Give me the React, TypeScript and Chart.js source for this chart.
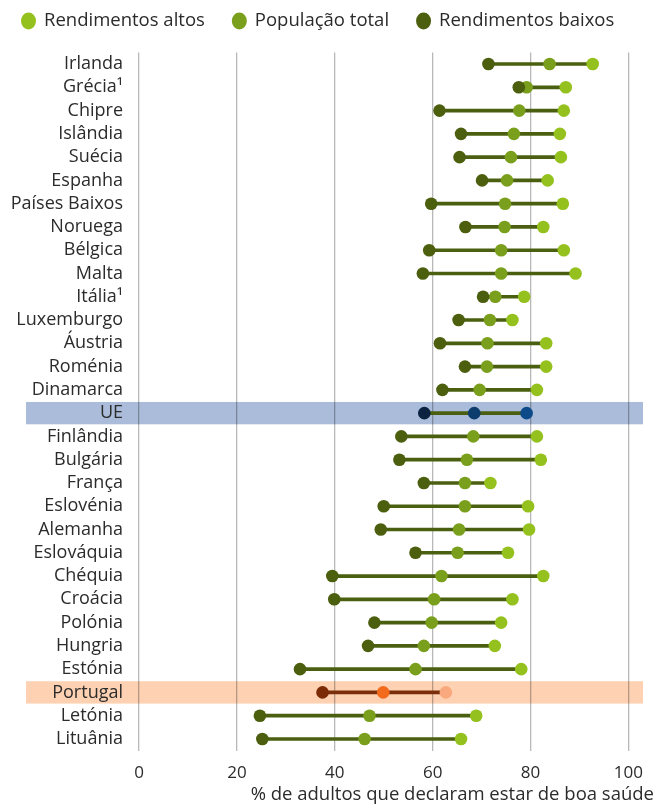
import React, { useEffect, useRef } from "react";
import { Chart, registerables } from "chart.js";

Chart.register(...registerables);

const countries = [
  "Irlanda", "Grécia¹", "Chipre", "Islândia", "Suécia", "Espanha", "Países Baixos", "Noruega",
  "Bélgica", "Malta", "Itália¹", "Luxemburgo", "Áustria", "Roménia", "Dinamarca", "UE",
  "Finlândia", "Bulgária", "França", "Eslovénia", "Alemanha", "Eslováquia", "Chéquia", "Croácia",
  "Polónia", "Hungria", "Estónia", "Portugal", "Letónia", "Lituânia",
];

const lowIncome = [
  71.4, 77.6, 61.4, 65.8, 65.5, 70.1, 59.7, 66.7,
  59.3, 58.0, 70.3, 65.3, 61.5, 66.6, 62.0, 58.3,
  53.6, 53.2, 58.2, 50.0, 49.4, 56.5, 39.5, 39.9,
  48.1, 46.8, 32.9, 37.5, 24.7, 25.2,
];

const totalPop = [
  83.9, 79.2, 77.7, 76.6, 76.0, 75.2, 74.8, 74.7,
  74.0, 74.0, 72.8, 71.7, 71.2, 71.1, 69.6, 68.5,
  68.3, 67.0, 66.6, 66.6, 65.4, 65.1, 61.8, 60.3,
  59.8, 58.2, 56.5, 49.9, 47.1, 46.1,
];

const highIncome = [
  92.7, 87.2, 86.8, 86.0, 86.2, 83.5, 86.6, 82.6,
  86.8, 89.2, 78.7, 76.3, 83.2, 83.2, 81.3, 79.2,
  81.3, 82.1, 71.8, 79.5, 79.7, 75.4, 82.6, 76.3,
  74.0, 72.7, 78.1, 62.7, 68.9, 65.8,
];

const xTicks = [0, 20, 40, 60, 80, 100];

const seriesNames = ["Rendimentos altos", "População total", "Rendimentos baixos"];
const axisTitle = "% de adultos que declaram estar de boa saúde";

const FONT = "'Open Sans', 'DejaVu Sans', sans-serif";

const GREEN = { low: "#4b5f0f", total: "#7a9f1d", high: "#95c11f", line: "#4b5f10" };
const EU = { low: "#0b2341", total: "#0c3d6d", high: "#0d4a89", band: "#aabcd9" };
const PT = { low: "#7b2c06", total: "#f26b1d", high: "#f9a97d", line: "#7a2e0a", band: "#fdd1b1" };

const colorFor = (kind: "low" | "total" | "high") =>
  countries.map((c) => (c === "UE" ? EU[kind] : c === "Portugal" ? PT[kind] : GREEN[kind]));

const bandPlugin = {
  id: "bands",
  beforeDraw(chart: any) {
    const { ctx } = chart;
    const y = chart.scales.y;
    const right = 643;
    const half = (y.getPixelForValue(1) - y.getPixelForValue(0)) * 0.48;
    ctx.save();
    countries.forEach((c, i) => {
      let col: string | null = null;
      if (c === "UE") col = EU.band;
      if (c === "Portugal") col = PT.band;
      if (!col) return;
      const py = y.getPixelForValue(i);
      ctx.fillStyle = col;
      ctx.fillRect(26, py - half, right - 26, half * 2);
    });
    ctx.restore();
  },
};

const legendPlugin = {
  id: "customLegend",
  afterDraw(chart: any) {
    const { ctx } = chart;
    const cols = [GREEN.high, GREEN.total, GREEN.low];
    ctx.save();
    ctx.font = `18.5px ${FONT}`;
    ctx.textBaseline = "middle";
    let x = 21;
    const cy = 21;
    seriesNames.forEach((name, i) => {
      ctx.fillStyle = cols[i];
      ctx.beginPath();
      ctx.ellipse(x + 7.5, cy, 7.5, 8.5, 0, 0, Math.PI * 2);
      ctx.fill();
      ctx.fillStyle = "#2b2b2b";
      ctx.textAlign = "left";
      ctx.fillText(name, x + 23, cy);
      x += 23 + ctx.measureText(name).width + 27;
    });
    // axis title
    ctx.font = `18.5px ${FONT}`;
    ctx.textAlign = "right";
    ctx.textBaseline = "middle";
    ctx.fillStyle = "#2b2b2b";
    ctx.fillText(axisTitle, 654, 795);
    ctx.restore();
  },
};

export default function App() {
  const ref = useRef<HTMLCanvasElement | null>(null);

  useEffect(() => {
    if (!ref.current) return;
    const pointOpts = {
      type: "line",
      indexAxis: "y",
      showLine: false,
      pointRadius: 6.3,
      pointHoverRadius: 6.3,
      pointBorderWidth: 0,
    };
    const chart = new Chart(ref.current, {
      type: "bar",
      data: {
        labels: countries,
        datasets: [
          { ...pointOpts, label: seriesNames[2], data: lowIncome, pointBackgroundColor: colorFor("low"), order: 1 } as any,
          { ...pointOpts, label: seriesNames[1], data: totalPop, pointBackgroundColor: colorFor("total"), order: 2 } as any,
          { ...pointOpts, label: seriesNames[0], data: highIncome, pointBackgroundColor: colorFor("high"), order: 3 } as any,
          {
            type: "bar",
            label: "range",
            data: countries.map((_, i) => [lowIncome[i], highIncome[i]]),
            backgroundColor: countries.map((c) => (c === "Portugal" ? PT.line : GREEN.line)),
            barThickness: 3,
            borderWidth: 0,
            order: 4,
          } as any,
        ],
      },
      options: {
        indexAxis: "y",
        responsive: false,
        animation: false,
        layout: { padding: { left: 0, right: 18, top: 52.4, bottom: 0 } },
        plugins: {
          legend: { display: false },
          tooltip: { enabled: false },
        },
        scales: {
          x: {
            type: "linear",
            min: xTicks[0],
            max: xTicks[xTicks.length - 1],
            afterFit: (s: any) => {
              s.height = 54.4;
            },
            afterBuildTicks: (s: any) => {
              s.ticks = xTicks.map((v) => ({ value: v }));
            },
            ticks: {
              padding: 12,
              color: "#2b2b2b",
              font: { family: FONT, size: 17 },
            },
            grid: { color: "rgba(0,0,0,0.28)", lineWidth: 1.3, drawTicks: false },
            border: { display: false },
          },
          y: {
            type: "category",
            offset: true,
            afterFit: (s: any) => {
              s.width = 139;
            },
            ticks: {
              padding: 16,
              color: "#2b2b2b",
              font: { family: FONT, size: 18 },
              autoSkip: false,
            },
            grid: { display: false, drawTicks: false },
            border: { display: false },
          },
        },
      },
      plugins: [bandPlugin, legendPlugin],
    });
    return () => chart.destroy();
  }, []);

  return (
    <div style={{ position: "fixed", left: 0, top: 0, width: 655, height: 805, background: "#fff" }}>
      <canvas ref={ref} width={655} height={805} style={{ width: 655, height: 805, display: "block" }} />
    </div>
  );
}
